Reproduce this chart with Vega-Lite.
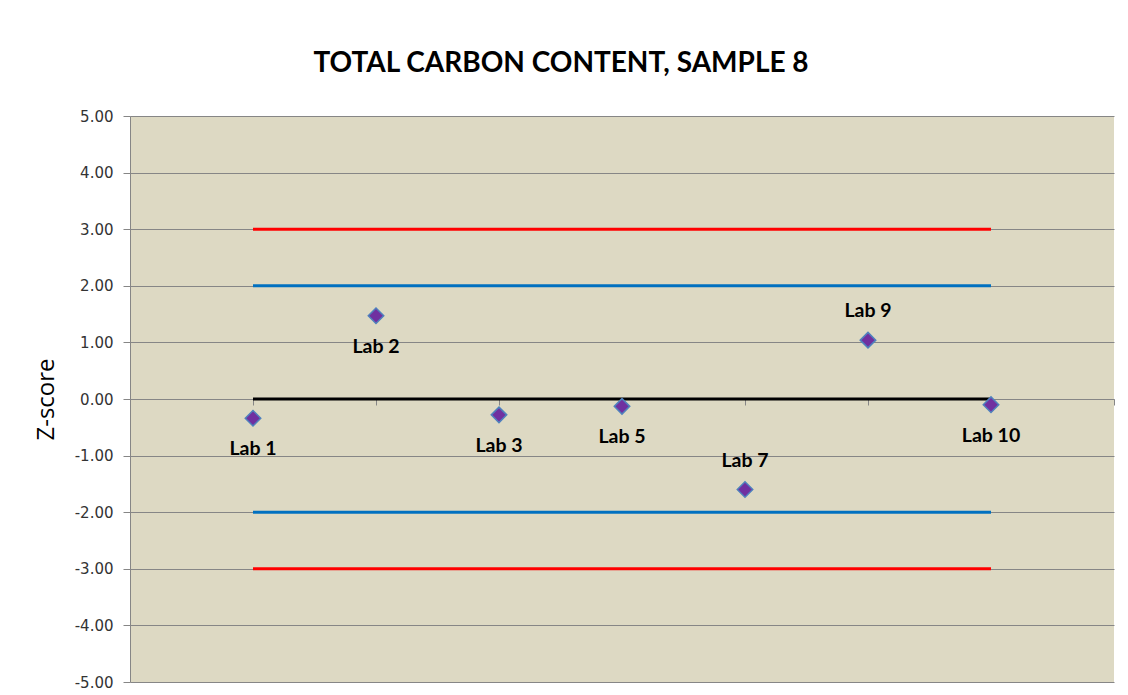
{
  "$schema": "https://vega.github.io/schema/vega-lite/v6.json",
  "autosize": {"type": "none"},
  "width": 984,
  "height": 566,
  "padding": {"left": 130, "top": 116, "right": 14, "bottom": 13},
  "background": "white",
  "config": {
    "view": {"fill": "#DDD9C3", "stroke": null}
  },
  "title": {
    "text": "TOTAL CARBON CONTENT, SAMPLE 8",
    "font": "Lato",
    "fontSize": 28,
    "fontWeight": "bold",
    "color": "#000000",
    "anchor": "middle",
    "dx": -61,
    "baseline": "alphabetic",
    "offset": 9
  },
  "datasets": {
    "labs": [
      {"lab": "Lab 1", "pos": 1, "z": -0.34},
      {"lab": "Lab 2", "pos": 2, "z": 1.47},
      {"lab": "Lab 3", "pos": 3, "z": -0.28},
      {"lab": "Lab 5", "pos": 4, "z": -0.13},
      {"lab": "Lab 7", "pos": 5, "z": -1.60},
      {"lab": "Lab 9", "pos": 6, "z": 1.04},
      {"lab": "Lab 10", "pos": 7, "z": -0.10}
    ],
    "limits": [
      {"limit": "+3", "level": 3, "start": 1, "end": 7, "kind": "action"},
      {"limit": "-3", "level": -3, "start": 1, "end": 7, "kind": "action"},
      {"limit": "+2", "level": 2, "start": 1, "end": 7, "kind": "warning"},
      {"limit": "-2", "level": -2, "start": 1, "end": 7, "kind": "warning"},
      {"limit": "0", "level": 0, "start": 1, "end": 7, "kind": "target"}
    ]
  },
  "layer": [
    {
      "data": {"name": "limits"},
      "mark": {"type": "rule", "strokeWidth": 3},
      "encoding": {
        "x": {
          "field": "start",
          "type": "quantitative",
          "scale": {"domain": [0, 8], "nice": false, "zero": false},
          "axis": {
            "orient": "bottom",
            "offset": -283,
            "values": [0, 1, 2, 3, 4, 5, 6, 7, 8],
            "labels": false,
            "title": null,
            "grid": false,
            "ticks": true,
            "tickSize": 6,
            "tickColor": "#868686",
            "domainColor": "#868686",
            "domainWidth": 1
          }
        },
        "x2": {"field": "end"},
        "y": {
          "field": "level",
          "type": "quantitative",
          "scale": {"domain": [-5, 5], "nice": false, "zero": false},
          "axis": {
            "values": [-5, -4, -3, -2, -1, 0, 1, 2, 3, 4, 5],
            "labelExpr": "replace(format(datum.value, '.2f'), '\u2212', '-')",
            "title": "Z-score",
            "titleFont": "Open Sans",
            "titleFontSize": 24,
            "titleFontWeight": "normal",
            "titleColor": "#000000",
            "titlePadding": 16,
            "labelFont": "DejaVu Sans",
            "labelFontSize": 15,
            "labelColor": "#333333",
            "labelPadding": 10,
            "tickSize": 7,
            "tickColor": "#868686",
            "domainColor": "#868686",
            "grid": true,
            "gridColor": "#868686",
            "gridWidth": 1
          }
        },
        "color": {
          "field": "kind",
          "type": "nominal",
          "scale": {"domain": ["action", "warning", "target"], "range": ["#FF0000", "#0070C0", "#000000"]},
          "legend": null
        }
      }
    },
    {
      "data": {"name": "labs"},
      "mark": {"type": "point", "shape": "diamond", "filled": true, "size": 240, "fill": "#7030A0", "stroke": "#4F81BD", "strokeWidth": 1.5, "opacity": 1},
      "encoding": {
        "x": {"field": "pos", "type": "quantitative"},
        "y": {"field": "z", "type": "quantitative"}
      }
    },
    {
      "data": {"name": "labs"},
      "transform": [{"filter": "indexof(['Lab 7', 'Lab 9'], datum.lab) < 0"}],
      "mark": {"type": "text", "font": "Lato", "fontSize": 19.5, "fontWeight": "bold", "color": "#000000", "baseline": "middle", "dy": 31},
      "encoding": {
        "x": {"field": "pos", "type": "quantitative"},
        "y": {"field": "z", "type": "quantitative"},
        "text": {"field": "lab"}
      }
    },
    {
      "data": {"name": "labs"},
      "transform": [{"filter": "indexof(['Lab 7', 'Lab 9'], datum.lab) >= 0"}],
      "mark": {"type": "text", "font": "Lato", "fontSize": 19.5, "fontWeight": "bold", "color": "#000000", "baseline": "middle", "dy": -29},
      "encoding": {
        "x": {"field": "pos", "type": "quantitative"},
        "y": {"field": "z", "type": "quantitative"},
        "text": {"field": "lab"}
      }
    }
  ]
}
